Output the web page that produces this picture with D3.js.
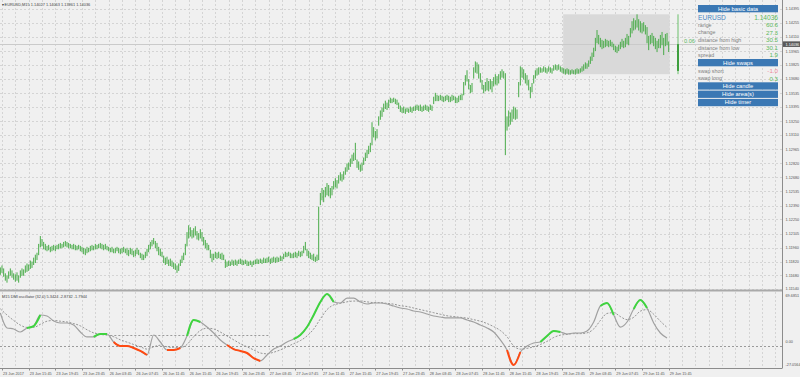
<!DOCTYPE html>
<html><head><meta charset="utf-8">
<script src="https://cdn.jsdelivr.net/npm/d3@7"></script>
<style>html,body{margin:0;padding:0;background:#f0f0f0;}svg{display:block;font-family:"Liberation Sans",Arial,sans-serif;}</style>
</head><body><svg id="c" width="800" height="377"></svg>
<script>
// ---------- DATA ----------
const highs = [1.1176,1.1178,1.1175,1.1170,1.1168,1.1172,1.1175,1.1173,1.1170,1.1169,1.1171,1.1168,1.1173,1.1175,1.1174,1.1178,1.1180,1.1179,1.1183,1.1182,
1.1186,1.1189,1.1191,1.1200,1.1208,1.1205,1.1202,1.1200,1.1198,1.1199,1.1197,1.1198,
1.1199,1.1198,1.1199,1.1200,1.1201,1.1200,1.1202,1.1203,1.1202,1.1201,1.1200,1.1199,1.1200,1.1199,1.1198,1.1199,1.1198,1.1197,
1.1196,1.1195,1.1197,1.1196,
1.1198,1.1199,1.1198,1.1200,1.1199,1.1200,1.1201,1.1200,1.1199,1.1200,1.1198,1.1197,
1.1196,1.1197,1.1195,1.1196,1.1197,1.1196,1.1195,1.1196,1.1197,1.1195,
1.1196,1.1194,1.1196,1.1195,1.1193,1.1194,1.1196,1.1194,
1.1191,1.1190,1.1189,1.1192,
1.1195,1.1199,1.1202,1.1204,1.1206,1.1203,
1.1201,1.1197,1.1195,1.1192,
1.1188,1.1186,1.1187,1.1184,1.1185,1.1183,
1.1181,1.1180,1.1178,1.1180,
1.1184,1.1188,1.1191,
1.1200,1.1212,1.1219,
1.1217,1.1214,1.1216,1.1218,1.1213,1.1211,1.1215,1.1212,
1.1207,1.1204,1.1201,1.1199,
1.1194,1.1190,
1.1190,1.1192,1.1191,1.1192,1.1190,1.1191,1.1189,
1.1184,
1.1182,1.1183,1.1182,1.1184,1.1183,1.1184,1.1183,1.1184,1.1185,1.1184,1.1183,1.1184,1.1183,1.1182,1.1183,1.1182,
1.1183,1.1184,1.1185,1.1184,1.1185,1.1184,1.1186,1.1185,
1.1186,1.1187,1.1185,1.1186,1.1187,1.1186,
1.1187,1.1186,1.1188,1.1187,
1.1190,1.1192,1.1191,1.1192,1.1191,1.1190,
1.1191,1.1192,1.1191,1.1193,1.1192,1.1193,
1.1198,1.1202,
1.1195,1.1193,1.1191,1.1189,1.1190,
1.1187,1.1189,
1.1238,
1.1252,1.1257,1.1255,
1.1258,1.1262,1.1260,1.1257,1.1259,
1.1264,1.1267,1.1265,
1.1270,1.1273,1.1271,1.1274,
1.1278,1.1282,1.1283,
1.1287,1.1291,1.1293,
1.1303,
1.1286,1.1284,1.1281,1.1283,
1.1288,1.1293,1.1296,
1.1300,1.1303,
1.1324,
1.1319,1.1315,1.1317,
1.1330,1.1336,1.1339,
1.1343,1.1346,1.1344,1.1347,
1.1349,1.1348,1.1349,1.1348,1.1347,
1.1344,1.1341,1.1339,1.1340,1.1338,
1.1339,1.1338,1.1340,1.1339,1.1340,1.1341,
1.1342,1.1341,1.1342,1.1340,1.1341,1.1342,1.1341,1.1340,1.1342,1.1341,
1.1350,1.1354,
1.1352,1.1351,1.1352,1.1351,1.1350,1.1351,1.1352,1.1351,1.1350,1.1352,1.1351,1.1350,1.1349,1.1351,
1.1352,1.1353,
1.1365,1.1372,1.1377,
1.1368,1.1362,1.1364,
1.1380,1.1386,
1.1385,1.1383,1.1374,
1.1367,1.1362,1.1365,
1.1369,1.1366,1.1368,1.1366,
1.1370,1.1373,1.1371,1.1373,
1.1376,1.1378,1.1376,
1.1374,
1.1330,1.1336,1.1334,1.1337,
1.1340,1.1339,1.1337,
1.1365,1.1381,
1.1380,1.1378,1.1374,1.1372,
1.1367,1.1360,1.1364,
1.1372,1.1377,1.1379,1.1380,
1.1380,1.1379,1.1381,1.1380,1.1379,1.1381,1.1380,1.1379,
1.1382,1.1383,1.1382,1.1383,1.1381,1.1380,
1.1379,1.1378,1.1379,1.1378,1.1377,1.1378,1.1377,1.1378,1.1379,1.1378,1.1379,1.1381,
1.1383,1.1385,1.1384,1.1387,1.1391,1.1395,
1.1400,1.1410,1.1418,
1.1413,1.1410,1.1408,1.1407,1.1409,
1.1408,1.1407,1.1408,1.1406,
1.1404,1.1402,1.1401,1.1403,
1.1406,1.1409,1.1407,
1.1410,1.1414,1.1412,
1.1420,1.1427,1.1430,
1.1428,1.1434,1.1429,
1.1427,1.1425,1.1426,1.1423,
1.1421,1.1412,
1.1413,1.1415,1.1412,
1.1410,1.1407,1.1409,
1.1413,1.1416,1.1410,
1.1414,1.1415,1.14063];

const lows = [1.1169,1.1171,1.1167,1.1163,1.1161,1.1165,1.1168,1.1166,1.1164,1.1162,1.1163,1.1161,1.1166,1.1168,1.1168,1.1171,1.1172,1.1173,1.1175,1.1176,
1.1179,1.1181,1.1184,1.1189,1.1197,1.1198,1.1195,1.1194,1.1193,1.1194,1.1192,1.1193,
1.1194,1.1193,1.1195,1.1195,1.1196,1.1196,1.1197,1.1198,1.1197,1.1196,1.1196,1.1195,1.1195,1.1194,1.1194,1.1195,1.1193,1.1192,
1.1190,1.1189,1.1191,1.1192,
1.1193,1.1194,1.1194,1.1195,1.1195,1.1196,1.1196,1.1195,1.1194,1.1195,1.1194,1.1193,
1.1192,1.1192,1.1191,1.1191,1.1193,1.1191,1.1190,1.1191,1.1192,1.1191,
1.1189,1.1188,1.1190,1.1189,1.1187,1.1188,1.1190,1.1189,
1.1186,1.1184,1.1184,1.1186,
1.1188,1.1192,1.1195,1.1198,1.1200,1.1196,
1.1193,1.1189,1.1188,1.1187,
1.1181,1.1179,1.1180,1.1178,1.1178,1.1177,
1.1175,1.1174,1.1171,1.1173,
1.1178,1.1181,1.1184,
1.1189,1.1198,1.1206,
1.1208,1.1206,1.1207,1.1209,1.1205,1.1204,1.1206,1.1203,
1.1199,1.1196,1.1194,1.1194,
1.1186,1.1182,
1.1184,1.1186,1.1185,1.1186,1.1185,1.1184,1.1184,
1.1176,
1.1177,1.1178,1.1178,1.1179,1.1178,1.1179,1.1178,1.1180,1.1180,1.1179,1.1179,1.1180,1.1178,1.1178,1.1179,1.1177,
1.1179,1.1180,1.1180,1.1180,1.1181,1.1180,1.1181,1.1181,
1.1181,1.1182,1.1180,1.1181,1.1182,1.1181,
1.1182,1.1182,1.1183,1.1183,
1.1185,1.1187,1.1187,1.1188,1.1186,1.1186,
1.1186,1.1187,1.1186,1.1188,1.1187,1.1188,
1.1191,1.1194,
1.1188,1.1186,1.1185,1.1184,1.1183,
1.1182,1.1183,
1.1184,
1.1240,1.1245,1.1243,
1.1248,1.1250,1.1249,1.1247,1.1250,
1.1256,1.1258,1.1257,
1.1262,1.1265,1.1264,1.1266,
1.1271,1.1274,1.1276,
1.1279,1.1282,1.1285,
1.1286,
1.1278,1.1276,1.1274,1.1275,
1.1281,1.1285,1.1288,
1.1292,1.1294,
1.1301,
1.1309,1.1306,1.1308,
1.1321,1.1327,1.1330,
1.1335,1.1338,1.1337,1.1339,
1.1344,1.1344,1.1345,1.1343,1.1342,
1.1338,1.1335,1.1334,1.1334,1.1333,
1.1335,1.1334,1.1335,1.1334,1.1336,1.1336,
1.1337,1.1336,1.1336,1.1335,1.1336,1.1337,1.1336,1.1335,1.1337,1.1336,
1.1343,1.1346,
1.1346,1.1346,1.1347,1.1346,1.1345,1.1346,1.1347,1.1345,1.1345,1.1346,1.1347,1.1344,1.1344,1.1345,
1.1347,1.1347,
1.1352,1.1362,1.1366,
1.1358,1.1354,1.1355,
1.1369,1.1375,
1.1374,1.1369,1.1365,
1.1358,1.1354,1.1356,
1.1357,1.1356,1.1358,1.1355,
1.1361,1.1363,1.1362,1.1364,
1.1368,1.1370,1.1369,
1.1291,
1.1316,1.1320,1.1322,1.1325,
1.1328,1.1327,1.1328,
1.1350,1.1362,
1.1370,1.1368,1.1364,1.1362,
1.1357,1.1349,1.1355,
1.1364,1.1369,1.1372,1.1373,
1.1375,1.1375,1.1376,1.1375,1.1374,1.1376,1.1375,1.1374,
1.1377,1.1378,1.1377,1.1378,1.1376,1.1375,
1.1374,1.1373,1.1374,1.1373,1.1373,1.1374,1.13735,1.1373,1.1374,1.1374,1.1375,1.1376,
1.1377,1.1379,1.1379,1.1381,1.1384,1.1387,
1.1391,1.1397,1.1405,
1.1404,1.1401,1.1399,1.1400,1.1401,
1.1402,1.1401,1.1402,1.1401,
1.1398,1.1396,1.1395,1.1397,
1.1399,1.1401,1.1400,
1.1401,1.1404,1.1403,
1.1411,1.1415,1.1418,
1.1419,1.1421,1.1418,
1.1416,1.1415,1.1417,1.1414,
1.1405,1.1398,
1.1404,1.1405,1.1402,
1.1399,1.1396,1.1400,
1.1400,1.1403,1.1393,
1.1402,1.1403,1.13961];

const dayStartBar = 338;
const dayOpen = 1.13763, lastClose = 1.14036;
const priceTicks = [1.14395,1.14255,1.14110,1.13965,1.13825,1.13680,1.13535,1.13395,1.13250,1.13110,1.12965,1.12820,1.12680,1.12535,1.12390,1.12250,1.12105,1.11960,1.11820,1.11680,1.11540];
const timeLabels = ["23 Jun 2017","23 Jun 15:45","23 Jun 19:45","23 Jun 23:45","26 Jun 03:45","26 Jun 07:45","26 Jun 11:45","26 Jun 15:45","26 Jun 19:45","26 Jun 23:45","27 Jun 03:45","27 Jun 07:45","27 Jun 11:45","27 Jun 15:45","27 Jun 19:45","27 Jun 23:45","28 Jun 03:45","28 Jun 07:45","28 Jun 11:45","28 Jun 15:45","28 Jun 19:45","28 Jun 23:45","29 Jun 03:45","29 Jun 07:45","29 Jun 11:45","29 Jun 15:45"];

// oscillator sampled every 4 bars (bar 0,4,...,400)
const oscValues = [42.6,23.3,22.0,18.1,23.3,25.8,40.0,38.7,32.3,29.7,29.7,27.1,18.1,11.7,11.7,15.5,15.5,5.2,0.0,0.0,
-2.6,-6.4,-11.6,14.2,5.2,-5.1,-5.1,-2.6,12.9,33.6,31.0,24.5,16.8,7.8,1.3,-3.9,-6.4,-9.0,-15.5,-19.3,
-11.6,-3.9,0.0,5.2,9.1,14.2,24.5,40.0,56.8,67.1,56.8,55.5,61.9,61.9,56.8,54.2,55.5,55.5,54.2,51.6,
49.0,47.8,45.2,43.9,41.3,38.7,37.4,36.2,36.2,36.2,33.6,31.0,27.1,23.3,18.1,7.8,-5.1,-24.5,-7.7,0.0,
3.9,5.2,12.9,19.4,18.1,15.5,16.8,16.8,19.4,31.0,51.6,55.5,40.0,24.5,31.0,47.8,59.4,49.0,29.7,16.8,10.4];
const signalValues = [48,40,33,27,24,24,28,32,33,32,31,29,26,21,17,15,14,12,8,5,
2,-1,-4,-1,1,-1,-2,-2,2,12,20,23,22,18,13,8,3,-1,-5,-9,
-10,-8,-5,-1,3,7,13,22,35,47,53,55,57,58,58,57,56,56,55,54,
52,51,49,47,45,43,41,39,38,37,36,34,32,29,25,20,12,0,-4,-3,
-1,2,6,11,14,15,16,16,17,22,33,42,43,38,34,37,45,47,41,32,24];
// segment colour between consecutive samples: g = green, r = red, n = neutral grey
const oscColors = "nnnnggnnnnnnnnggnrrrrrnnnrrnggnnnnrrrrrnnnnnggggggnnnnnnnnnnnnnnnnnnnnnnnnnnrrnnngggnnnnnnggnnnggnnnnn";
const levelUpper = 14.2, levelUpperFrom = 66, levelUpperTo = 162;
const oscLabel = "M15 DMI oscillator (32,0) 5.3424 -2.8732 -1.7944";

const infoRows = [
  {label:"range", value:"60.6", color:"#5cb85c"},
  {label:"change", value:"27.3", color:"#5cb85c"},
  {label:"distance from high", value:"30.5", color:"#5cb85c"},
  {label:"distance from low", value:"30.1", color:"#5cb85c"},
  {label:"spread", value:"1.9", color:"#5cb85c"}
];
const swapRows = [
  {label:"swap short", value:"-1.0", color:"#f0899a"},
  {label:"swap long", value:"0.3", color:"#5cb85c"}
];

// ---------- DRAW ----------
const svg = d3.select("#c");
const plotR = 782;
const x = d3.scaleLinear().domain([0, 401]).range([0.33, 668.7]);
const y = d3.scaleLinear().domain([1.1153, 1.14486]).range([290, 0]);
const yi = d3.scaleLinear().domain([-27.0564, 69.6851]).range([367, 292]);

svg.append("rect").attr("width",800).attr("height",377).attr("fill","#f0f0f0");

const grid = svg.append("g").attr("stroke","#d4d4d4").attr("stroke-dasharray","2,2").attr("stroke-width",1);
priceTicks.forEach(t=>{
  const yy = Math.round(y(t))+0.5;
  grid.append("line").attr("x1",0).attr("x2",plotR).attr("y1",yy).attr("y2",yy);
});
for (let b=1; x(b) < plotR; b+=8) {
  const xx = Math.round(x(b))+0.5;
  grid.append("line").attr("x1",xx).attr("x2",xx).attr("y1",0).attr("y2",289);
  grid.append("line").attr("x1",xx).attr("x2",xx).attr("y1",292).attr("y2",368);
}

// day range area
const dayH = d3.max(highs.slice(dayStartBar)), dayL = d3.min(lows.slice(dayStartBar));
svg.append("rect").attr("x",x(dayStartBar)-0.5).attr("y",y(dayH)).attr("width",x(highs.length-1)-x(dayStartBar)+1.5)
  .attr("height",y(dayL)-y(dayH)).attr("fill","#d9d9d9");

// bid line
svg.append("line").attr("x1",0).attr("x2",plotR).attr("y1",Math.round(y(lastClose))+0.5).attr("y2",Math.round(y(lastClose))+0.5)
  .attr("stroke","#cacaca").attr("stroke-width",1);

// bars (high-low)
svg.append("g").selectAll("line").data(highs).join("line")
  .attr("x1",(d,i)=>x(i)).attr("x2",(d,i)=>x(i))
  .attr("y1",d=>y(d)).attr("y2",(d,i)=>y(lows[i])+0.5)
  .attr("stroke","#48ab48").attr("stroke-width",1);

// daily candle
const cx = 678;
svg.append("line").attr("x1",cx).attr("x2",cx).attr("y1",y(dayH)).attr("y2",y(dayL)).attr("stroke","#6cc06c").attr("stroke-width",1);
svg.append("rect").attr("x",cx-1).attr("y",y(lastClose)).attr("width",2).attr("height",y(dayOpen)-y(lastClose)).attr("fill","#3f9f3f");
svg.append("text").attr("x",684).attr("y",43).attr("font-size",5.6).attr("fill","#5cb85c").text("0.06");

// title
svg.append("text").attr("x",1.5).attr("y",6).attr("font-size",3.9).attr("fill","#444")
  .text("\u25BE  EURUSD,M15  1.14027 1.14063 1.13961 1.14036");

// info panel
const px0 = 698, px1 = 778;
function button(y0, label){
  svg.append("rect").attr("x",px0).attr("y",y0).attr("width",px1-px0).attr("height",7.3).attr("fill","#3b78b4");
  svg.append("text").attr("x",(px0+px1)/2).attr("y",y0+5.5).attr("text-anchor","middle").attr("font-size",5.8).attr("fill","#fff").text(label);
}
button(5,"Hide basic data");
svg.append("text").attr("x",px0).attr("y",19.6).attr("font-size",6.6).attr("fill","#4a86c2").text("EURUSD");
svg.append("text").attr("x",px1).attr("y",19.6).attr("text-anchor","end").attr("font-size",6.6).attr("fill","#5cb85c").text("1.14036");
infoRows.forEach((r,i)=>{
  const yy = 26.7 + i*7.6;
  svg.append("text").attr("x",px0).attr("y",yy).attr("font-size",5.3).attr("fill","#808080").text(r.label);
  svg.append("text").attr("x",px1).attr("y",yy+0.3).attr("text-anchor","end").attr("font-size",6.2).attr("fill",r.color).text(r.value);
});
button(59,"Hide swaps");
swapRows.forEach((r,i)=>{
  const yy = 72.7 + i*7.6;
  svg.append("text").attr("x",px0).attr("y",yy).attr("font-size",5.3).attr("fill","#808080").text(r.label);
  svg.append("text").attr("x",px1).attr("y",yy+0.3).attr("text-anchor","end").attr("font-size",6.2).attr("fill",r.color).text(r.value);
});
button(82.3,"Hide candle");
button(90.6,"Hide area(s)");
button(98.9,"Hide timer");

// axis + separators
svg.append("line").attr("x1",plotR+0.5).attr("x2",plotR+0.5).attr("y1",0).attr("y2",368.5).attr("stroke","#8c8c8c");
svg.append("rect").attr("x",0).attr("y",289.5).attr("width",plotR).attr("height",2).attr("fill","#a9a9a9");
svg.append("line").attr("x1",0).attr("x2",plotR).attr("y1",368.5).attr("y2",368.5).attr("stroke","#8c8c8c");

const axT = svg.append("g").attr("font-size",3.8).attr("fill","#555");
priceTicks.forEach(t=>{
  axT.append("text").attr("x",785.5).attr("y",y(t)+1.4).text(t.toFixed(5));
});
svg.append("rect").attr("x",783).attr("y",y(lastClose)-2.8).attr("width",17).attr("height",5.6).attr("fill","#5a5a5a");
svg.append("text").attr("x",785.5).attr("y",y(lastClose)+1.4).attr("font-size",3.8).attr("fill","#fff").text(lastClose.toFixed(5));

// indicator
svg.append("text").attr("x",2).attr("y",297.5).attr("font-size",3.9).attr("fill","#444").text(oscLabel);
svg.append("line").attr("x1",0).attr("x2",plotR).attr("y1",Math.round(yi(0))+0.5).attr("y2",Math.round(yi(0))+0.5)
  .attr("stroke","#9a9a9a").attr("stroke-dasharray","2,2");
svg.append("line").attr("x1",x(levelUpperFrom)).attr("x2",x(levelUpperTo)).attr("y1",Math.round(yi(levelUpper))+0.5).attr("y2",Math.round(yi(levelUpper))+0.5)
  .attr("stroke","#9a9a9a").attr("stroke-dasharray","2,2");

const oscPts = oscValues.map((v,k)=>[x(k*4), yi(v)]);
const sigPts = signalValues.map((v,k)=>[x(k*4), yi(v)]);
const line = d3.line().curve(d3.curveMonotoneX);
svg.append("path").attr("d",line(sigPts)).attr("fill","none").attr("stroke","#8a8a8a").attr("stroke-width",0.9).attr("stroke-dasharray","2,1.5");
svg.append("path").attr("d",line(oscPts)).attr("fill","none").attr("stroke","#a0a0a0").attr("stroke-width",1.2);
let k=0;
while(k<oscColors.length){
  const c = oscColors[k];
  let e = k; while(e<oscColors.length && oscColors[e]===c) e++;
  if(c!=="n"){
    svg.append("path").attr("d",line(oscPts.slice(k,e+1))).attr("fill","none")
      .attr("stroke", c==="g" ? "#3fd43f" : "#ff4a12").attr("stroke-width",2);
  }
  k=e;
}

const axI = svg.append("g").attr("font-size",3.8).attr("fill","#555");
axI.append("text").attr("x",785.5).attr("y",296.5).text("69.6851");
axI.append("text").attr("x",785.5).attr("y",yi(0)-3.5).text("0.00");
axI.append("text").attr("x",785.5).attr("y",366).text("-27.0564");

// time axis
const tA = svg.append("g").attr("font-size",3.8).attr("fill","#555");
timeLabels.forEach((t,j)=>{
  const xx = Math.round(x(1+16*j))+0.5;
  svg.append("line").attr("x1",xx).attr("x2",xx).attr("y1",368.5).attr("y2",370.5).attr("stroke","#8c8c8c");
  tA.append("text").attr("x",x(1+16*j)+1).attr("y",374.5).text(t);
});
</script></body></html>
